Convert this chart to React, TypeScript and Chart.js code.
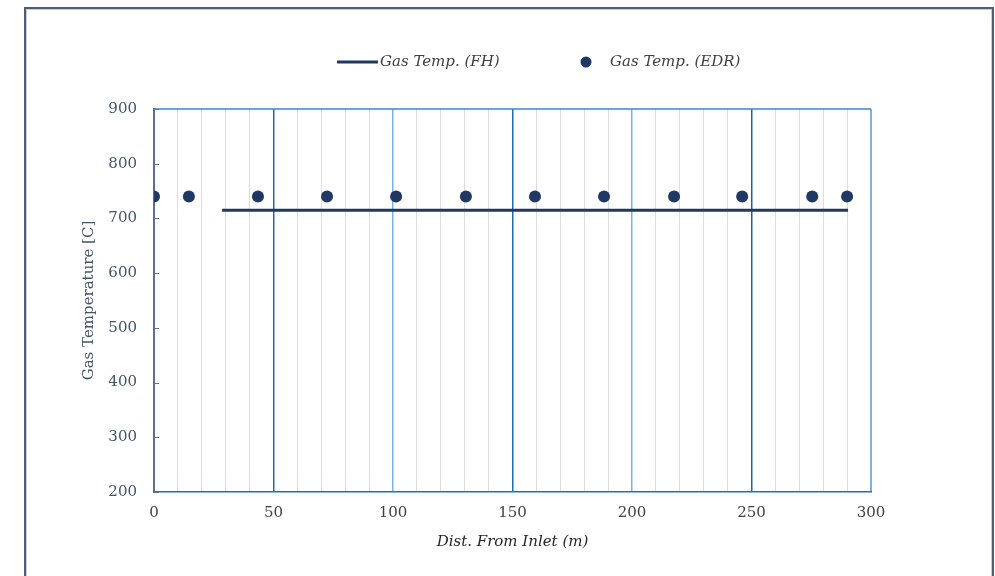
import React, { useEffect, useRef } from "react";
import { Chart, registerables } from "chart.js";

Chart.register(...registerables);

// ---- data ----
const fhDist = [28.5, 290.4];
const fhTemp = [715, 715];
const edrDist = [0, 14.6, 43.5, 72.4, 101.3, 130.5, 159.4, 188.3, 217.6, 246.1, 275.4, 290.0];
const edrTemp = [740, 740, 740, 740, 740, 740, 740, 740, 740, 740, 740, 740];
const xTicks = [0, 50, 100, 150, 200, 250, 300];
const yTicks = [200, 300, 400, 500, 600, 700, 800, 900];
const seriesNames = ["Gas Temp. (FH)", "Gas Temp. (EDR)"];
const xTitle = "Dist. From Inlet (m)";
const yTitle = "Gas Temperature [C]";

const NAVY = "#1f3864";
const SERIF = "'DejaVu Serif', 'Liberation Serif', serif";

const majorColors: Record<number, string> = {
  50: "#1f6bb0",
  100: "#7ab3e0",
  150: "#1f6bb0",
  200: "#7ab3e0",
  250: "#1f5fa0",
  300: "#7ab3e0",
};

const extrasPlugin = {
  id: "extras",
  afterDraw(chart: any) {
    const { ctx, chartArea } = chart;
    const ys = chart.scales.y;
    ctx.save();
    // top border
    ctx.strokeStyle = "#3a86cc";
    ctx.lineWidth = 1.5;
    ctx.beginPath();
    ctx.moveTo(chartArea.left, chartArea.top);
    ctx.lineTo(chartArea.right, chartArea.top);
    ctx.stroke();
    // inward y ticks
    ctx.strokeStyle = "#5b6e9e";
    ctx.lineWidth = 1;
    yTicks.forEach((v) => {
      const y = Math.round(ys.getPixelForValue(v)) + 0.5;
      ctx.beginPath();
      ctx.moveTo(chartArea.left, y);
      ctx.lineTo(chartArea.left + 5, y);
      ctx.stroke();
    });
    // legend
    const ly = 62;
    ctx.strokeStyle = NAVY;
    ctx.lineWidth = 3;
    ctx.beginPath();
    ctx.moveTo(337, ly);
    ctx.lineTo(378, ly);
    ctx.stroke();
    ctx.fillStyle = NAVY;
    ctx.beginPath();
    ctx.arc(586, ly, 5.5, 0, Math.PI * 2);
    ctx.fill();
    ctx.font = `italic 15px ${SERIF}`;
    ctx.fillStyle = "#404040";
    ctx.textBaseline = "middle";
    ctx.textAlign = "left";
    ctx.fillText(seriesNames[0], 380, ly);
    ctx.fillText(seriesNames[1], 610, ly);
    ctx.restore();
  },
};

export default function App() {
  const ref = useRef<HTMLCanvasElement>(null);
  useEffect(() => {
    if (!ref.current) return;
    const chart = new Chart(ref.current, {
      type: "scatter",
      data: {
        datasets: [
          {
            label: seriesNames[0],
            data: fhDist.map((x, i) => ({ x, y: fhTemp[i] })),
            showLine: true,
            borderColor: NAVY,
            backgroundColor: NAVY,
            borderWidth: 3,
            pointRadius: 0,
          },
          {
            label: seriesNames[1],
            data: edrDist.map((x, i) => ({ x, y: edrTemp[i] })),
            showLine: false,
            borderColor: NAVY,
            backgroundColor: NAVY,
            pointRadius: 6,
            pointBorderWidth: 0,
          },
        ],
      },
      options: {
        responsive: false,
        animation: false,
        layout: { padding: { left: 0, top: 109, right: 124, bottom: 0 } },
        plugins: {
          legend: { display: false },
          tooltip: { enabled: false },
        },
        scales: {
          x: {
            type: "linear",
            min: 0,
            max: 300,
            afterFit: (s: any) => {
              s.height = 84;
            },
            afterBuildTicks: (s: any) => {
              const t = [];
              for (let v = 0; v <= 300; v += 10) t.push({ value: v });
              s.ticks = t;
            },
            ticks: {
              autoSkip: false,
              maxRotation: 0,
              padding: 12,
              color: "#404040",
              font: { family: SERIF, size: 15 },
              callback: (v: any) => (xTicks.includes(Number(v)) ? String(v) : ""),
            },
            grid: {
              drawTicks: false,
              color: (c: any) => {
                const v = c.tick?.value;
                if (v === 0) return "rgba(0,0,0,0)";
                if (majorColors[v]) return majorColors[v];
                return "#dcdcdc";
              },
              lineWidth: (c: any) => {
                const v = c.tick?.value;
                if (v === 300) return 2;
                if (majorColors[v]) return 1.5;
                return 1;
              },
            },
            border: { color: "#1f70c0", width: 1.5 },
            title: {
              display: true,
              text: xTitle,
              color: "#262626",
              font: { family: SERIF, size: 15, style: "italic" },
              padding: { top: 0, bottom: 25 },
            },
          },
          y: {
            min: 200,
            max: 900,
            afterFit: (s: any) => {
              s.width = 154;
            },
            afterBuildTicks: (s: any) => {
              s.ticks = yTicks.map((v) => ({ value: v }));
            },
            ticks: {
              padding: 17,
              color: "#44546a",
              font: { family: SERIF, size: 15 },
            },
            grid: { display: false, drawTicks: false },
            border: { color: "#5b6e9e", width: 2 },
            title: {
              display: true,
              text: yTitle,
              color: "#44546a",
              font: { family: SERIF, size: 15 },
              padding: { top: 80, bottom: 0 },
            },
          },
        },
      },
      plugins: [extrasPlugin],
    });
    return () => chart.destroy();
  }, []);

  return (
    <div
      style={{
        position: "fixed",
        left: 0,
        top: 0,
        width: 995,
        height: 576,
        overflow: "hidden",
        background: "#fff",
      }}
    >
      <div
        style={{
          position: "absolute",
          left: 24,
          top: 7,
          width: 966,
          height: 620,
          border: "2px solid #4d5f78",
          boxShadow: "inset 0 0 0 1px #c8ccd4",
        }}
      />
      <canvas
        ref={ref}
        width={995}
        height={576}
        style={{ position: "absolute", left: 0, top: 0, width: 995, height: 576 }}
      />
    </div>
  );
}
